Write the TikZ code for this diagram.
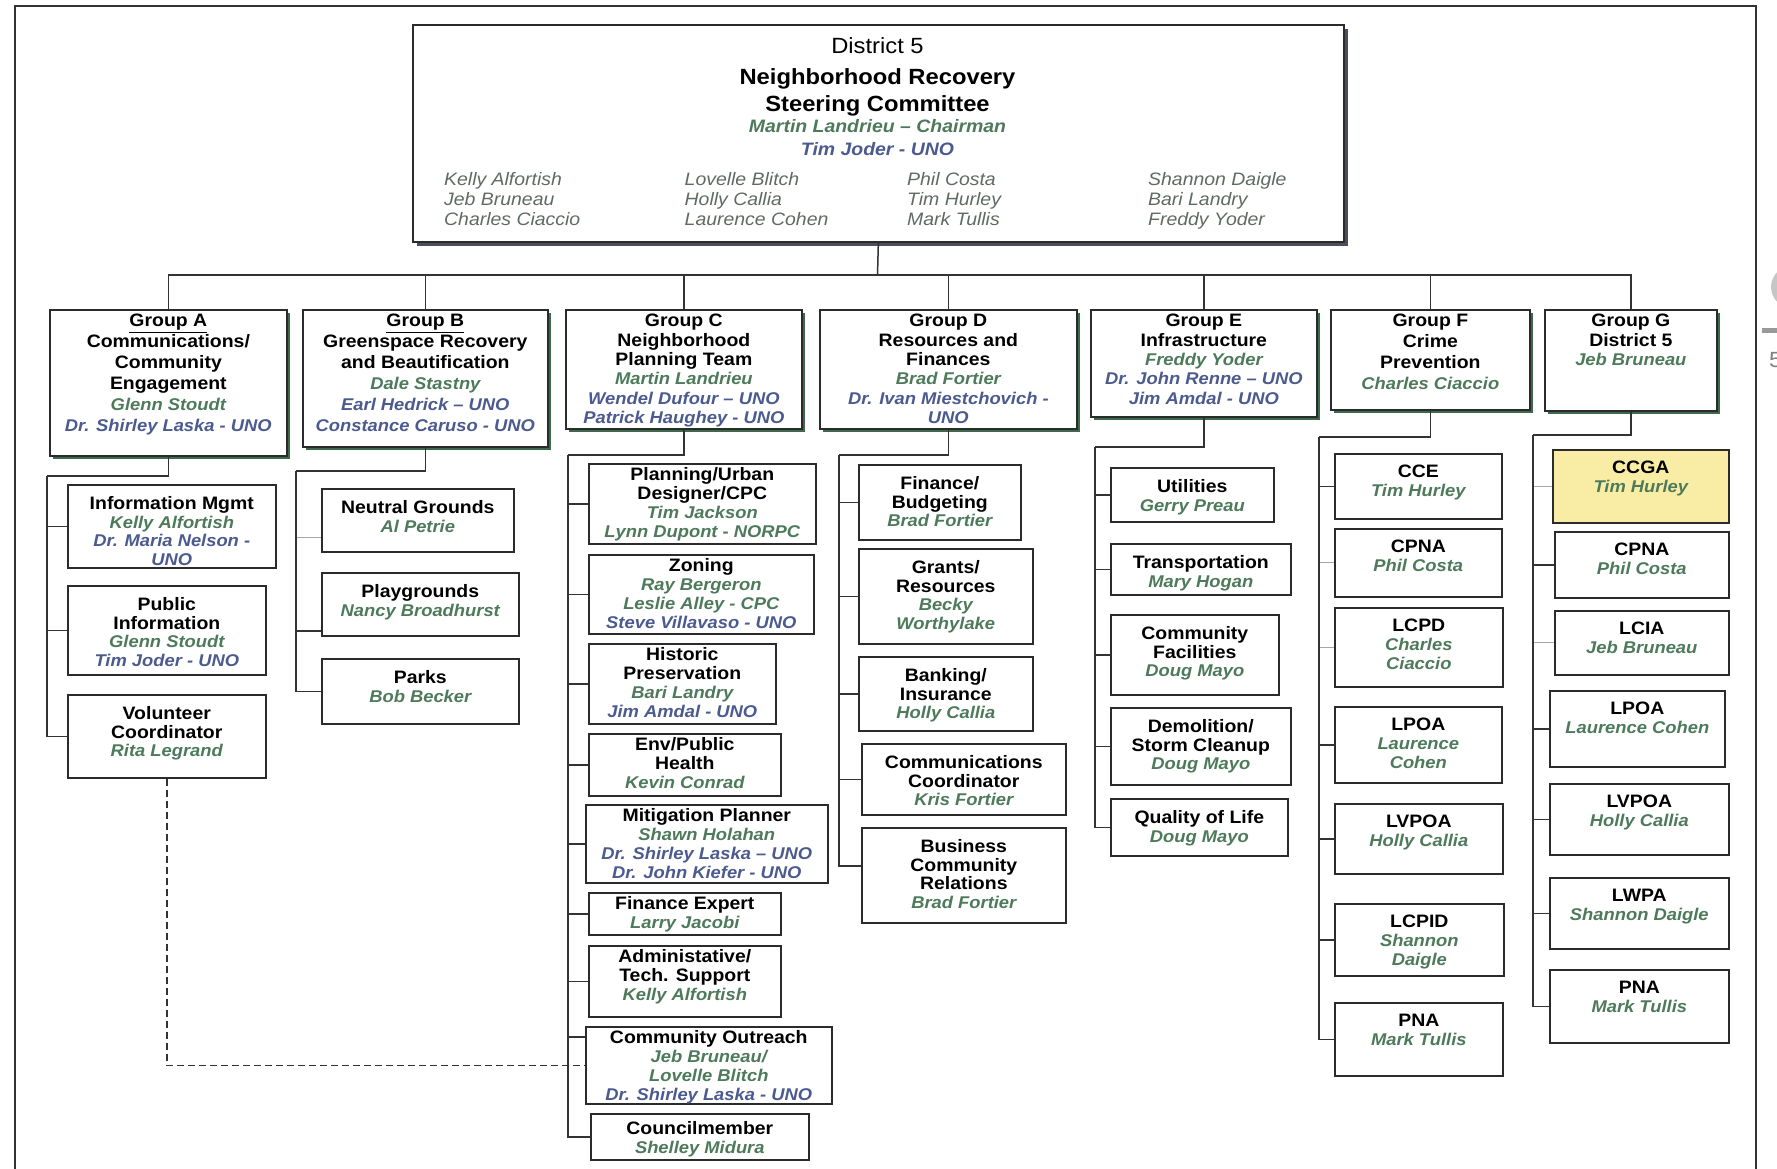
\documentclass[tikz,border=0pt]{standalone}
\usepackage{fontspec}
\setmainfont{Liberation Sans}[FakeStretch=1.08]
\usetikzlibrary{shadows}
\definecolor{boxline}{HTML}{2B2B2B}
\definecolor{wire}{HTML}{333333}
\definecolor{namegreen}{HTML}{4D7A5A}
\definecolor{nameblue}{HTML}{4B5A8F}
\definecolor{member}{HTML}{5F6B62}
\definecolor{grpshadow}{HTML}{3E6A4C}
\definecolor{topshadow}{HTML}{4A4E5C}
\definecolor{pale}{HTML}{F9EDA5}
\newcommand{\nmg}{\fontsize{17}{19}\selectfont\bfseries\itshape\color{namegreen}}
\newcommand{\nmb}{\fontsize{17}{19}\selectfont\bfseries\itshape\color{nameblue}}
\tikzset{
  topbox/.style={draw=boxline, fill=white, line width=1.7pt, anchor=north west, drop shadow={shadow xshift=4pt, shadow yshift=-4pt, fill=topshadow, opacity=1}},
  grp/.style={draw=boxline, fill=white, line width=1.7pt, anchor=north west, drop shadow={shadow xshift=3.5pt, shadow yshift=-3.5pt, fill=grpshadow, opacity=1}},
  sub/.style={draw=boxline, fill=white, line width=1.6pt, anchor=north west},
  link/.style={draw=wire, line width=1.5pt},
  faint/.style={draw=gray!70, line width=0.9pt},
  dashlink/.style={draw=wire, line width=1.4pt, dash pattern=on 7pt off 4pt},
  txtbase/.style={anchor=north, inner sep=0pt, align=center, font=\fontsize{18}{18.8}\selectfont\bfseries},
  txt/.style={txtbase, yshift=-12pt},
  txtc/.style={txtbase, yshift=-4.5pt},
  gtxt/.style={txtbase, yshift=-5pt, font=\fontsize{18}{19.4}\selectfont\bfseries},
  gtxtw/.style={txtbase, yshift=-5pt, font=\fontsize{18}{21}\selectfont\bfseries},
  mem/.style={anchor=north west, inner sep=0pt, align=left, text=member, font=\fontsize{18}{20}\selectfont\itshape},
}

\begin{document}
\begin{tikzpicture}[x=1pt, y=-1pt]
\useasboundingbox (0,0) rectangle (1777,1169);
\draw[draw=wire, line width=2.2pt] (15,1169) -- (15,6) -- (1756,6) -- (1756,1169);
\fill[gray!45] (1792,287) circle[radius=21pt];
\fill[gray!80] (1762,328) rectangle (1777,333);
\node[anchor=west, inner sep=0pt, text=gray, font=\fontsize{22}{22}\selectfont] (pg5) at (1769,360) {5};

\node[topbox, minimum width=931, minimum height=217] (top) at (412,24) {};
\node[anchor=north, inner sep=0pt, align=center, font=\fontsize{22}{22}\selectfont] (title) at (877.5,37) {District 5\\[9pt]{\bfseries Neighborhood Recovery}\\[5.3pt]{\bfseries Steering Committee}\\[-0.9pt]{\fontsize{18}{20}\selectfont\bfseries\itshape\color{namegreen}Martin Landrieu -- Chairman}\\[0.7pt]{\fontsize{18}{20}\selectfont\bfseries\itshape\color{nameblue}Tim Joder - UNO}};
\node[mem] (m1) at (444,172) {Kelly Alfortish\\Jeb Bruneau\\Charles Ciaccio};
\node[mem] (m2) at (684.5,172) {Lovelle Blitch\\Holly Callia\\Laurence Cohen};
\node[mem] (m3) at (907,172) {Phil Costa\\Tim Hurley\\Mark Tullis};
\node[mem] (m4) at (1148,172) {Shannon Daigle\\Bari Landry\\Freddy Yoder};

\node[grp, minimum width=237, minimum height=146] (gA) at (49,309) {};
\node[gtxtw] (gAt) at (gA.north) {\underline{Group A}\\Communications/\\Community\\Engagement\\\nmg Glenn Stoudt\\\nmb Dr. Shirley Laska - UNO};
\node[grp, minimum width=245, minimum height=137] (gB) at (302,309) {};
\node[gtxtw] (gBt) at (gB.north) {\underline{Group B}\\Greenspace Recovery\\and Beautification\\\nmg Dale Stastny\\\nmb Earl Hedrick -- UNO\\\nmb Constance Caruso - UNO};
\node[grp, minimum width=236, minimum height=119] (gC) at (565,309) {};
\node[gtxt] (gCt) at (gC.north) {Group C\\Neighborhood\\Planning Team\\\nmg Martin Landrieu\\\nmb Wendel Dufour -- UNO\\\nmb Patrick Haughey - UNO};
\node[grp, minimum width=257, minimum height=119] (gD) at (819,309) {};
\node[gtxt] (gDt) at (gD.north) {Group D\\Resources and\\Finances\\\nmg Brad Fortier\\\nmb Dr. Ivan Miestchovich -\\\nmb UNO};
\node[grp, minimum width=226, minimum height=107] (gE) at (1090,309) {};
\node[gtxt] (gEt) at (gE.north) {Group E\\Infrastructure\\\nmg Freddy Yoder\\\nmb Dr. John Renne -- UNO\\\nmb Jim Amdal - UNO};
\node[grp, minimum width=199, minimum height=100] (gF) at (1330,309) {};
\node[gtxtw] (gFt) at (gF.north) {Group F\\Crime\\Prevention\\\nmg Charles Ciaccio};
\node[grp, minimum width=172, minimum height=101] (gG) at (1544,309) {};
\node[gtxt] (gGt) at (gG.north) {Group G\\District 5\\\nmg Jeb Bruneau};

\node[sub, minimum width=208, minimum height=83] (im) at (67,484) {};
\node[txt] (imt) at (im.north) {Information Mgmt\\\nmg Kelly Alfortish\\\nmb Dr. Maria Nelson -\\\nmb UNO};
\node[sub, minimum width=198, minimum height=89] (pi) at (67,585) {};
\node[txt] (pit) at (pi.north) {Public\\Information\\\nmg Glenn Stoudt\\\nmb Tim Joder - UNO};
\node[sub, minimum width=198, minimum height=83] (vc) at (67,694) {};
\node[txt] (vct) at (vc.north) {Volunteer\\Coordinator\\\nmg Rita Legrand};

\node[sub, minimum width=192, minimum height=63] (ng) at (321,488) {};
\node[txt] (ngt) at (ng.north) {Neutral Grounds\\\nmg Al Petrie};
\node[sub, minimum width=197, minimum height=63] (pg) at (321,572) {};
\node[txt] (pgt) at (pg.north) {Playgrounds\\\nmg Nancy Broadhurst};
\node[sub, minimum width=197, minimum height=65] (pk) at (321,658) {};
\node[txt] (pkt) at (pk.north) {Parks\\\nmg Bob Becker};

\node[sub, minimum width=227, minimum height=80] (pu) at (588,463) {};
\node[txtc] (put) at (pu.north) {Planning/Urban\\Designer/CPC\\\nmg Tim Jackson\\\nmg Lynn Dupont - NORPC};
\node[sub, minimum width=225, minimum height=79] (zn) at (588,554) {};
\node[txtc] (znt) at (zn.north) {Zoning\\\nmg Ray Bergeron\\\nmg Leslie Alley - CPC\\\nmb Steve Villavaso - UNO};
\node[sub, minimum width=187, minimum height=80] (hp) at (588,643) {};
\node[txtc] (hpt) at (hp.north) {Historic\\Preservation\\\nmg Bari Landry\\\nmb Jim Amdal - UNO};
\node[sub, minimum width=192, minimum height=62] (ep) at (588,733) {};
\node[txtc] (ept) at (ep.north) {Env/Public\\Health\\\nmg Kevin Conrad};
\node[sub, minimum width=242, minimum height=78] (mp) at (585,804) {};
\node[txtc] (mpt) at (mp.north) {Mitigation Planner\\\nmg Shawn Holahan\\\nmb Dr. Shirley Laska -- UNO\\\nmb Dr. John Kiefer - UNO};
\node[sub, minimum width=192, minimum height=42] (fe) at (588,892) {};
\node[txtc] (fet) at (fe.north) {Finance Expert\\\nmg Larry Jacobi};
\node[sub, minimum width=192, minimum height=71] (at) at (588,945) {};
\node[txtc] (att) at (at.north) {Administative/\\Tech. Support\\\nmg Kelly Alfortish};
\node[sub, minimum width=246, minimum height=77] (co) at (585,1026) {};
\node[txtc] (cot) at (co.north) {Community Outreach\\\nmg Jeb Bruneau/\\\nmg Lovelle Blitch\\\nmb Dr. Shirley Laska - UNO};
\node[sub, minimum width=218, minimum height=46] (cm) at (590,1113) {};
\node[txtc, yshift=-3.5pt] (cmt) at (cm.north) {Councilmember\\\nmg Shelley Midura};

\node[sub, minimum width=162, minimum height=75] (fb) at (858,464) {};
\node[txt] (fbt) at (fb.north) {Finance/\\Budgeting\\\nmg Brad Fortier};
\node[sub, minimum width=174, minimum height=95] (gr) at (858,548) {};
\node[txt] (grt) at (gr.north) {Grants/\\Resources\\\nmg Becky\\\nmg Worthylake};
\node[sub, minimum width=174, minimum height=74] (bi) at (858,656) {};
\node[txt] (bit) at (bi.north) {Banking/\\Insurance\\\nmg Holly Callia};
\node[sub, minimum width=204, minimum height=71] (cc) at (861,743) {};
\node[txt] (cct) at (cc.north) {Communications\\Coordinator\\\nmg Kris Fortier};
\node[sub, minimum width=204, minimum height=95] (bc) at (861,827) {};
\node[txt] (bct) at (bc.north) {Business\\Community\\Relations\\\nmg Brad Fortier};

\node[sub, minimum width=163, minimum height=54] (ut) at (1110,467) {};
\node[txt] (utt) at (ut.north) {Utilities\\\nmg Gerry Preau};
\node[sub, minimum width=180, minimum height=51] (tr) at (1110,543) {};
\node[txt] (trt) at (tr.north) {Transportation\\\nmg Mary Hogan};
\node[sub, minimum width=168, minimum height=80] (cf) at (1110,614) {};
\node[txt] (cft) at (cf.north) {Community\\Facilities\\\nmg Doug Mayo};
\node[sub, minimum width=180, minimum height=77] (dm) at (1110,707) {};
\node[txt] (dmt) at (dm.north) {Demolition/\\Storm Cleanup\\\nmg Doug Mayo};
\node[sub, minimum width=177, minimum height=57] (ql) at (1110,798) {};
\node[txt] (qlt) at (ql.north) {Quality of Life\\\nmg Doug Mayo};

\node[sub, minimum width=167, minimum height=65] (cce) at (1334,453) {};
\node[txt] (ccet) at (cce.north) {CCE\\\nmg Tim Hurley};
\node[sub, minimum width=167, minimum height=68] (fcp) at (1334,528) {};
\node[txt] (fcpt) at (fcp.north) {CPNA\\\nmg Phil Costa};
\node[sub, minimum width=168, minimum height=79] (lcpd) at (1334,607) {};
\node[txt] (lcpdt) at (lcpd.north) {LCPD\\\nmg Charles\\\nmg Ciaccio};
\node[sub, minimum width=167, minimum height=76] (flp) at (1334,706) {};
\node[txt] (flpt) at (flp.north) {LPOA\\\nmg Laurence\\\nmg Cohen};
\node[sub, minimum width=168, minimum height=70] (flv) at (1334,803) {};
\node[txt] (flvt) at (flv.north) {LVPOA\\\nmg Holly Callia};
\node[sub, minimum width=169, minimum height=72] (lcpid) at (1334,903) {};
\node[txt] (lcpidt) at (lcpid.north) {LCPID\\\nmg Shannon\\\nmg Daigle};
\node[sub, minimum width=168, minimum height=73] (fpn) at (1334,1002) {};
\node[txt] (fpnt) at (fpn.north) {PNA\\\nmg Mark Tullis};

\node[sub, fill=pale, minimum width=176, minimum height=73] (ccga) at (1552,449) {};
\node[txt] (ccgat) at (ccga.north) {CCGA\\\nmg Tim Hurley};
\node[sub, minimum width=174, minimum height=66] (gcp) at (1554,531) {};
\node[txt] (gcpt) at (gcp.north) {CPNA\\\nmg Phil Costa};
\node[sub, minimum width=174, minimum height=64] (lcia) at (1554,610) {};
\node[txt] (lciat) at (lcia.north) {LCIA\\\nmg Jeb Bruneau};
\node[sub, minimum width=175, minimum height=76] (glp) at (1549,690) {};
\node[txt] (glpt) at (glp.north) {LPOA\\\nmg Laurence Cohen};
\node[sub, minimum width=179, minimum height=71] (glv) at (1549,783) {};
\node[txt] (glvt) at (glv.north) {LVPOA\\\nmg Holly Callia};
\node[sub, minimum width=179, minimum height=71] (lwpa) at (1549,877) {};
\node[txt] (lwpat) at (lwpa.north) {LWPA\\\nmg Shannon Daigle};
\node[sub, minimum width=179, minimum height=73] (gpn) at (1549,969) {};
\node[txt] (gpnt) at (gpn.north) {PNA\\\nmg Mark Tullis};

\coordinate (bus) at (877.5,275);
\coordinate (tA) at (47,476);
\coordinate (tB) at (296,471);
\coordinate (tC) at (568,455);
\coordinate (tD) at (839,455);
\coordinate (tE) at (1095,447);
\coordinate (tF) at (1319,437);
\coordinate (tG) at (1533,435);

\draw[faint] ([yshift=-17pt]ng.west) -| (tB);
\draw[faint] (fcp.west) -| (tF);
\draw[faint] (lcpd.west) -| (tF);
\draw[faint] (ccga.west) -| (tG);
\draw[faint] (lcia.west) -| (tG);

\draw[link] (top.south) -- (bus);
\draw[link] (gA.north) |- (bus) -| (gG.north);
\foreach \g in {gB,gC,gD,gE,gF}
  \draw[link] (\g.north) -- (\g.north |- bus);

\draw[link] (gA.south) |- (tA);
\foreach \b in {im,pi,vc}
  \draw[link] (\b.west) -| (tA);
\draw[link] (gB.south) |- (tB);
\draw[link] ([yshift=-26.5pt]pg.west) -| (tB);
\draw[link] (pk.west) -| (tB);
\draw[link] (gC.south) |- (tC);
\foreach \b in {pu,zn,hp,ep,mp,fe,at,cm}
  \draw[link] (\b.west) -| (tC);
\draw[link] ([yshift=28.5pt]co.west) -| (tC);
\draw[link] (gD.south) |- (tD);
\foreach \b in {fb,gr,bi,cc}
  \draw[link] (\b.west) -| (tD);
\draw[link] ([yshift=9.5pt]bc.west) -| (tD);
\draw[link] (gE.south) |- (tE);
\foreach \b in {ut,tr,cf,dm,ql}
  \draw[link] (\b.west) -| (tE);
\draw[link] (gF.south) |- (tF);
\foreach \b in {cce,flp,flv,lcpid,fpn}
  \draw[link] (\b.west) -| (tF);
\draw[link] (gG.south) |- (tG);
\foreach \b in {gcp,glp,glv,lwpa,gpn}
  \draw[link] (\b.west) -| (tG);
\draw[link, line width=2.6pt] (glp.west -| tG) -- ++(0,-72);

\draw[dashlink] (vc.south) |- (co.west);
\end{tikzpicture}
\end{document}
